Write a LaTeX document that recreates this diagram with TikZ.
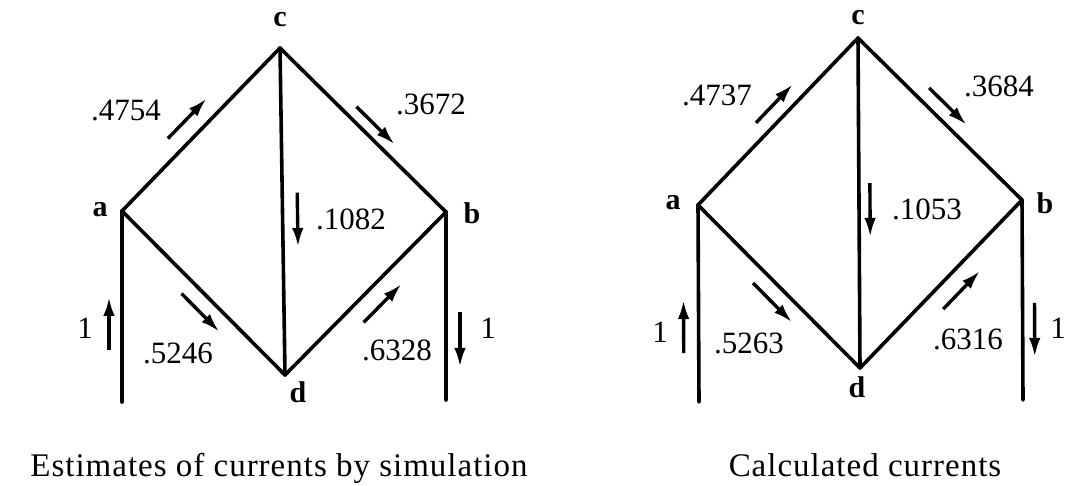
\documentclass[tikz,border=0pt]{standalone}
\usepackage{fontspec}
\setmainfont{Liberation Serif}
\usepackage{tikz}
\usetikzlibrary{arrows.meta, calc}

\tikzset{
  wire/.style={line width=3.6pt, line cap=round, line join=round},
  flow/.style={line width=3.4pt, -{Latex[length=19pt,width=11.5pt]}},
  vtx/.style={inner sep=0pt, font=\fontsize{30}{30}\selectfont\bfseries},
  amt/.style={inner sep=0pt, font=\fontsize{31}{31}\selectfont},
  capt/.style={inner sep=0pt, anchor=base, font=\fontsize{33}{33}\selectfont\addfontfeatures{LetterSpace=3}}
}

\begin{document}
\begin{tikzpicture}[x=1pt,y=-1pt]

\useasboundingbox (0,0) rectangle (1065,485);

% simulated network
\coordinate (a1) at (122,211);
\coordinate (c1) at (280,48);
\coordinate (b1) at (446,212);
\coordinate (d1) at (285,375);
\coordinate (a01) at (122,402);
\coordinate (b01) at (446,400);

\draw[wire] (a01)--(a1);
\draw[wire] (a1)--(c1);
\draw[wire] (c1)--(b1);
\draw[wire] (b1)--(b01);
\draw[wire] (a1)--(d1);
\draw[wire] (d1)--(b1);
\draw[wire] (c1)--(d1);

\node[vtx] (la1) at (100,210) {a};
\node[vtx] (lb1) at (472,213) {b};
\node[vtx] (lc1) at (280,20) {c};
\node[vtx] (ld1) at (298,392) {d};

\draw[flow] ($(a1)!0.37!(c1)!17.5pt!90:(c1)$) -- ($(a1)!0.615!(c1)!17.5pt!90:(c1)$);
\draw[flow] ($(c1)!0.41!(b1)!12pt!90:(b1)$) -- ($(c1)!0.64!(b1)!12pt!90:(b1)$);
\draw[flow] ($(c1)!0.443!(d1)!15pt!90:(d1)$) -- ($(c1)!0.609!(d1)!15pt!90:(d1)$);
\draw[flow] ($(a1)!0.435!(d1)!16pt!-90:(d1)$) -- ($(a1)!0.667!(d1)!16pt!-90:(d1)$);
\draw[flow] ($(d1)!0.404!(b1)!19pt!-90:(b1)$) -- ($(d1)!0.64!(b1)!19pt!-90:(b1)$);
\draw[flow] ($(a01)!0.272!(a1)!13pt!90:(a1)$) -- ($(a01)!0.55!(a1)!13pt!90:(a1)$);
\draw[flow] ($(b1)!0.532!(b01)!14pt!90:(b01)$) -- ($(b1)!0.824!(b01)!14pt!90:(b01)$);

\node[amt] (ac1) at (126,111) {.4754};
\node[amt] (cb1) at (431,104) {.3672};
\node[amt] (cd1) at (351,219) {.1082};
\node[amt] (ad1) at (178,353) {.5246};
\node[amt] (db1) at (397,350) {.6328};
\node[amt] (in1) at (85,328) {1};
\node[amt] (out1) at (488,328) {1};

\node[capt] (cap1) at (279,476) {Estimates of currents by simulation};


% calculated network
\begin{scope}[shift={(576,0)}]

\coordinate (a2) at (122,205);
\coordinate (c2) at (282,38);
\coordinate (b2) at (446,200);
\coordinate (d2) at (284,368);
\coordinate (a02) at (123,402);
\coordinate (b02) at (447,400);

\draw[wire] (a02)--(a2);
\draw[wire] (a2)--(c2);
\draw[wire] (c2)--(b2);
\draw[wire] (b2)--(b02);
\draw[wire] (a2)--(d2);
\draw[wire] (d2)--(b2);
\draw[wire] (c2)--(d2);

\node[vtx] (la2) at (97,203) {a};
\node[vtx] (lb2) at (469,203) {b};
\node[vtx] (lc2) at (282,18) {c};
\node[vtx] (ld2) at (281,387) {d};

\draw[flow] ($(a2)!0.43!(c2)!15pt!90:(c2)$) -- ($(a2)!0.66!(c2)!15pt!90:(c2)$);
\draw[flow] ($(c2)!0.372!(b2)!14.5pt!90:(b2)$) -- ($(c2)!0.60!(b2)!14.5pt!90:(b2)$);
\draw[flow] ($(c2)!0.44!(d2)!11pt!90:(d2)$) -- ($(c2)!0.603!(d2)!11pt!90:(d2)$);
\draw[flow] ($(a2)!0.41!(d2)!16pt!-90:(d2)$) -- ($(a2)!0.65!(d2)!16pt!-90:(d2)$);
\draw[flow] ($(d2)!0.429!(b2)!19pt!-90:(b2)$) -- ($(d2)!0.656!(b2)!19pt!-90:(b2)$);
\draw[flow] ($(a02)!0.249!(a2)!15pt!90:(a2)$) -- ($(a02)!0.518!(a2)!15pt!90:(a2)$);
\draw[flow] ($(b2)!0.515!(b02)!12pt!90:(b02)$) -- ($(b2)!0.785!(b02)!12pt!90:(b02)$);

\node[amt] (ac2) at (141,95) {.4737};
\node[amt] (cb2) at (423,86) {.3684};
\node[amt] (cd2) at (351,209) {.1053};
\node[amt] (ad2) at (173,343) {.5263};
\node[amt] (db2) at (392,339) {.6316};
\node[amt] (in2) at (84,332) {1};
\node[amt] (out2) at (482,328) {1};

\node[capt] (cap2) at (289,476) {Calculated currents};

\end{scope}

\end{tikzpicture}
\end{document}
